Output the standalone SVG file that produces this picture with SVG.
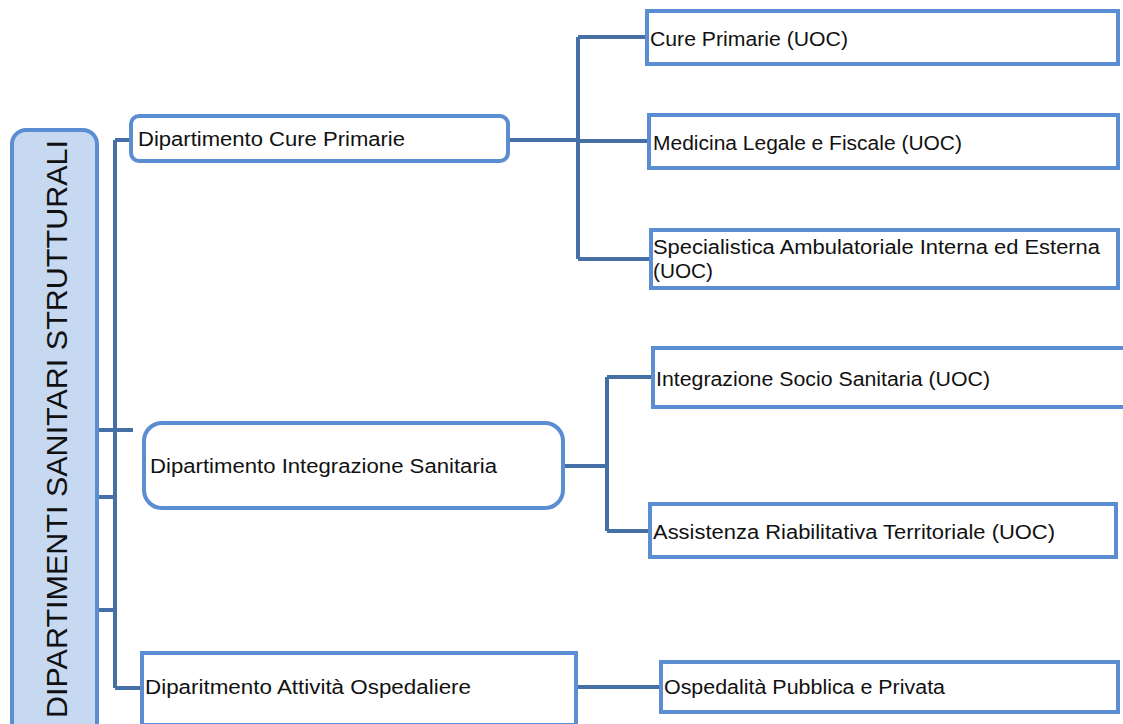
<svg xmlns="http://www.w3.org/2000/svg" width="1123" height="724" viewBox="0 0 1123 724">
<style>
.box{fill:#ffffff;stroke:#5b8dd3;stroke-width:4}
.root{fill:#c6d9f1;stroke:#5b8dd3;stroke-width:4}
.con{fill:none;stroke:#4470a6;stroke-width:4}
text{font-family:"Liberation Sans",Arial,sans-serif;font-size:20px;fill:#111111}
.big{font-size:30px}
</style>
<rect width="1123" height="724" fill="#ffffff"/>
<g id="connectors">
<path class="con" d="M97 430H133M97 497H115M97 610H115M115 140V688M115 140H133M115 688H143"/>
<path class="con" d="M507 140H578M578 37V259M578 37H648M578 141H650M578 259H651"/>
<path class="con" d="M562 466H607M607 377V531M607 377H652M607 531H651"/>
<path class="con" d="M575 687H662"/>
</g>
<g id="root">
<rect class="root" x="12" y="130" width="85" height="610" rx="14"/>
<text class="big" transform="translate(67 718) rotate(-90)" textLength="578" lengthAdjust="spacingAndGlyphs">DIPARTIMENTI SANITARI STRUTTURALI</text>
</g>
<g id="dip-cure">
<rect class="box" x="131" y="116" width="377" height="45" rx="8"/>
<text x="138" y="146" textLength="267" lengthAdjust="spacingAndGlyphs">Dipartimento Cure Primarie</text>
</g>
<g id="dip-integrazione">
<rect class="box" x="144" y="423" width="419" height="85" rx="18"/>
<text x="150" y="473" textLength="347" lengthAdjust="spacingAndGlyphs">Dipartimento Integrazione Sanitaria</text>
</g>
<g id="dip-ospedaliere">
<rect class="box" x="142" y="653" width="434" height="72"/>
<text x="145" y="694" textLength="326" lengthAdjust="spacingAndGlyphs">Diparitmento Attività Ospedaliere</text>
</g>
<g id="cure-primarie">
<rect class="box" x="647" y="11" width="471" height="53"/>
<text x="650" y="46" textLength="198" lengthAdjust="spacingAndGlyphs">Cure Primarie (UOC)</text>
</g>
<g id="medicina-legale">
<rect class="box" x="649" y="115" width="469" height="53"/>
<text x="653" y="150" textLength="309" lengthAdjust="spacingAndGlyphs">Medicina Legale e Fiscale (UOC)</text>
</g>
<g id="specialistica">
<rect class="box" x="651" y="230" width="467" height="58"/>
<text x="653" y="254" textLength="447" lengthAdjust="spacingAndGlyphs">Specialistica Ambulatoriale Interna ed Esterna</text>
<text x="653" y="278" textLength="60" lengthAdjust="spacingAndGlyphs">(UOC)</text>
</g>
<g id="integrazione-socio">
<rect class="box" x="653" y="348" width="480" height="59"/>
<text x="656" y="386" textLength="334" lengthAdjust="spacingAndGlyphs">Integrazione Socio Sanitaria (UOC)</text>
</g>
<g id="assistenza">
<rect class="box" x="650" y="504" width="466" height="53"/>
<text x="653" y="539" textLength="402" lengthAdjust="spacingAndGlyphs">Assistenza Riabilitativa Territoriale (UOC)</text>
</g>
<g id="ospedalita">
<rect class="box" x="661" y="662" width="457" height="50"/>
<text x="664" y="694" textLength="281" lengthAdjust="spacingAndGlyphs">Ospedalità Pubblica e Privata</text>
</g>
</svg>
